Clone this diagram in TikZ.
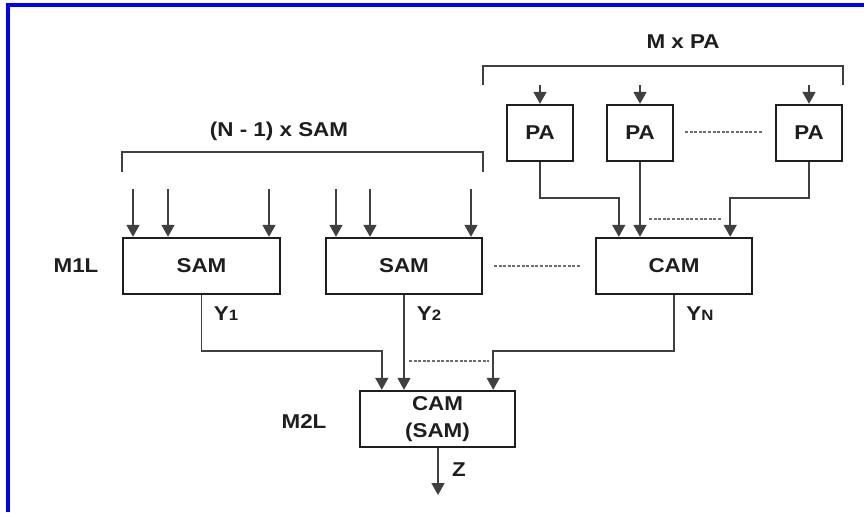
\documentclass[tikz,border=0pt]{standalone}
\usepackage{fontspec}
\setmainfont{Liberation Sans}[FakeStretch=1.12]
\usetikzlibrary{arrows.meta}
\definecolor{ink}{HTML}{1E1E1E}
\newcommand{\subtxt}[1]{{\fontsize{15}{15}\selectfont #1}}
\begin{document}
\begin{tikzpicture}[x=1pt,y=-1pt,
  every node/.style={font=\fontsize{20}{23}\selectfont\bfseries,text=ink},
  blk/.style={draw=ink,line width=2.4pt,fill=white,inner sep=0pt,align=center},
  wire/.style={draw=ink!85,line width=1.7pt},
  arr/.style={wire,-{Triangle[width=13pt,length=12pt]}},
  dots/.style={draw=ink!65,line width=1.2pt,dash pattern=on 3pt off 1.6pt}]
  \useasboundingbox (0,0) rectangle (864,512);
  % frame
  \draw[blue,line width=4pt] (8,512) -- (8,4.5) -- (864,4.5);
  % first level
  \node[blk,minimum width=157pt,minimum height=56pt] (sam1) at (201.5,266) {SAM};
  \node[blk,minimum width=156pt,minimum height=56pt] (sam2) at (404,266) {SAM};
  \node[blk,minimum width=156pt,minimum height=56pt] (cam) at (674,266) {CAM};
  \node (m1l) at (76,266) {M1L};
  % partial adders
  \node[blk,minimum width=66pt,minimum height=56pt] (pa1) at (540,133) {PA};
  \node[blk,minimum width=66pt,minimum height=56pt] (pa2) at (640,133) {PA};
  \node[blk,minimum width=66pt,minimum height=56pt] (pa3) at (809,133) {PA};
  % second level
  \node[blk,minimum width=155pt,minimum height=56pt,font=\fontsize{20}{27}\selectfont\bfseries] (m2l) at (437.5,419) {CAM\\(SAM)};
  \node (m2lbl) at (304,422) {M2L};
  % brackets
  \draw[wire] (122,172) -- (122,152) -- (483,152) -- (483,172);
  \node (nsam) at (279,131) {(N - 1) x SAM};
  \draw[wire] (483,85) -- (483,66) -- (843,66) -- (843,85);
  \node (mpa) at (683,42) {M x PA};
  % inputs
  \foreach \x in {133,168,269,336,370,471}
    \draw[arr] (\x,189) -- (\x,189 |- sam1.north);
  \foreach \p in {pa1,pa2,pa3}
    \draw[arr] ([yshift=19pt]\p.north) -- (\p.north);
  % PA to CAM
  \draw[arr] (pa1.south) -- ++(0,36) -| ([xshift=24pt]cam.north west);
  \draw[arr] (pa2.south) -- (pa2.south |- cam.north);
  \draw[arr] (pa3.south) -- ++(0,36) -| ([xshift=-23pt]cam.north east);
  % outputs
  \draw[arr] (sam1.south) -- ++(0,56) -| ([xshift=23pt]m2l.north west);
  \draw[arr] (sam2.south) -- (sam2.south |- m2l.north);
  \draw[arr] (cam.south) -- ++(0,56) -| ([xshift=-23pt]m2l.north east);
  \coordinate (zend) at (438,495);
  \draw[arr] (m2l.south -| zend) -- (zend);
  \node (y1) at (226,314) {Y\subtxt{1}};
  \node (y2) at (429,314) {Y\subtxt{2}};
  \node (yn) at (700,314) {Y\subtxt{N}};
  \node (z) at (459,470) {Z};
  % dotted gaps
  \draw[dots] (685,132) -- (763,132);
  \draw[dots] (494,266) -- (581,266);
  \draw[dots] (649,219) -- (722,219);
  \draw[dots] (409,361) -- (489,361);
\end{tikzpicture}
\end{document}
